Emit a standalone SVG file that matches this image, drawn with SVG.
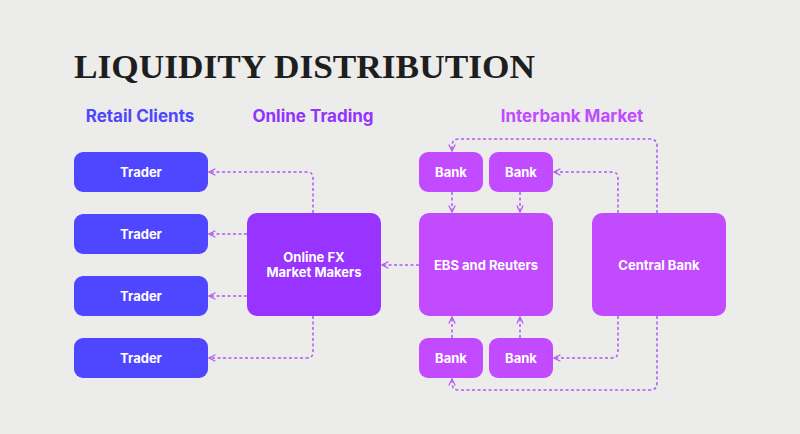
<svg xmlns="http://www.w3.org/2000/svg" width="800" height="434" viewBox="0 0 800 434">
<style>
.t{font-family:Inter,"Liberation Sans",sans-serif;font-weight:700;fill:#fff;font-size:13px;text-anchor:middle}
.h{font-family:Inter,"Liberation Sans",sans-serif;font-weight:700;font-size:17px}
.c{fill:none;stroke:#B455F5;stroke-width:1.5;stroke-dasharray:3 2.5}
</style>
<defs><marker id="a" viewBox="0 0 10 10" refX="9" refY="5" markerWidth="8" markerHeight="8" orient="auto-start-reverse" markerUnits="userSpaceOnUse"><path d="M1 1L9 5L1 9" fill="none" stroke="#B455F5" stroke-width="1.5"/></marker></defs>
<rect width="800" height="434" fill="#ECECEA"/>
<text x="74" y="78" font-family="'Liberation Serif',serif" font-weight="700" font-size="34" fill="#1E1E1E" textLength="461" lengthAdjust="spacingAndGlyphs">LIQUIDITY DISTRIBUTION</text>
<text class="h" x="140" y="122" fill="#4F46FF" text-anchor="middle">Retail Clients</text>
<text class="h" x="313" y="122" fill="#9333FF" text-anchor="middle">Online Trading</text>
<text class="h" x="572" y="122" fill="#C04BFF" text-anchor="middle">Interbank Market</text>
<g id="connectors" class="c">
<path class="c" d="M313 213V178q0-6-6-6H209" marker-end="url(#a)"/>
<path class="c" d="M247 234H209" marker-end="url(#a)"/>
<path class="c" d="M247 296H209" marker-end="url(#a)"/>
<path class="c" d="M313 316V352q0 6-6 6H209" marker-end="url(#a)"/>
<path class="c" d="M419 265H382" marker-end="url(#a)"/>
<path class="c" d="M452 192V212" marker-end="url(#a)"/>
<path class="c" d="M520 192V212" marker-end="url(#a)"/>
<path class="c" d="M452 338V317" marker-end="url(#a)"/>
<path class="c" d="M520 338V317" marker-end="url(#a)"/>
<path class="c" d="M618 213V178q0-6-6-6H554" marker-end="url(#a)"/>
<path class="c" d="M618 316V352q0 6-6 6H554" marker-end="url(#a)"/>
<path class="c" d="M657 213V146q0-7-7-7H459q-7 0-7 7V151" marker-end="url(#a)"/>
<path class="c" d="M657 316V383q0 7-7 7H459q-7 0-7-7V379" marker-end="url(#a)"/>
</g>
<g id="trader1"><rect x="74" y="152" width="134" height="40" rx="9" fill="#4F46FF"/><text class="t" x="141" y="177">Trader</text></g>
<g id="trader2"><rect x="74" y="214" width="134" height="40" rx="9" fill="#4F46FF"/><text class="t" x="141" y="239">Trader</text></g>
<g id="trader3"><rect x="74" y="276" width="134" height="40" rx="9" fill="#4F46FF"/><text class="t" x="141" y="301">Trader</text></g>
<g id="trader4"><rect x="74" y="338" width="134" height="40" rx="9" fill="#4F46FF"/><text class="t" x="141" y="363">Trader</text></g>
<g id="onlinefx"><rect x="247" y="213" width="134" height="103" rx="10" fill="#9933FF"/><text class="t" x="314" y="262">Online FX</text><text class="t" x="314" y="277">Market Makers</text></g>
<g id="ebs"><rect x="419" y="213" width="134" height="103" rx="10" fill="#C24BFF"/><text class="t" x="486" y="270">EBS and Reuters</text></g>
<g id="central"><rect x="592" y="213" width="134" height="103" rx="10" fill="#C24BFF"/><text class="t" x="659" y="270">Central Bank</text></g>
<g id="bank1"><rect x="419" y="152" width="64" height="40" rx="9" fill="#C24BFF"/><text class="t" x="451" y="177">Bank</text></g>
<g id="bank2"><rect x="489" y="152" width="64" height="40" rx="9" fill="#C24BFF"/><text class="t" x="521" y="177">Bank</text></g>
<g id="bank3"><rect x="419" y="338" width="64" height="40" rx="9" fill="#C24BFF"/><text class="t" x="451" y="363">Bank</text></g>
<g id="bank4"><rect x="489" y="338" width="64" height="40" rx="9" fill="#C24BFF"/><text class="t" x="521" y="363">Bank</text></g>
</svg>
